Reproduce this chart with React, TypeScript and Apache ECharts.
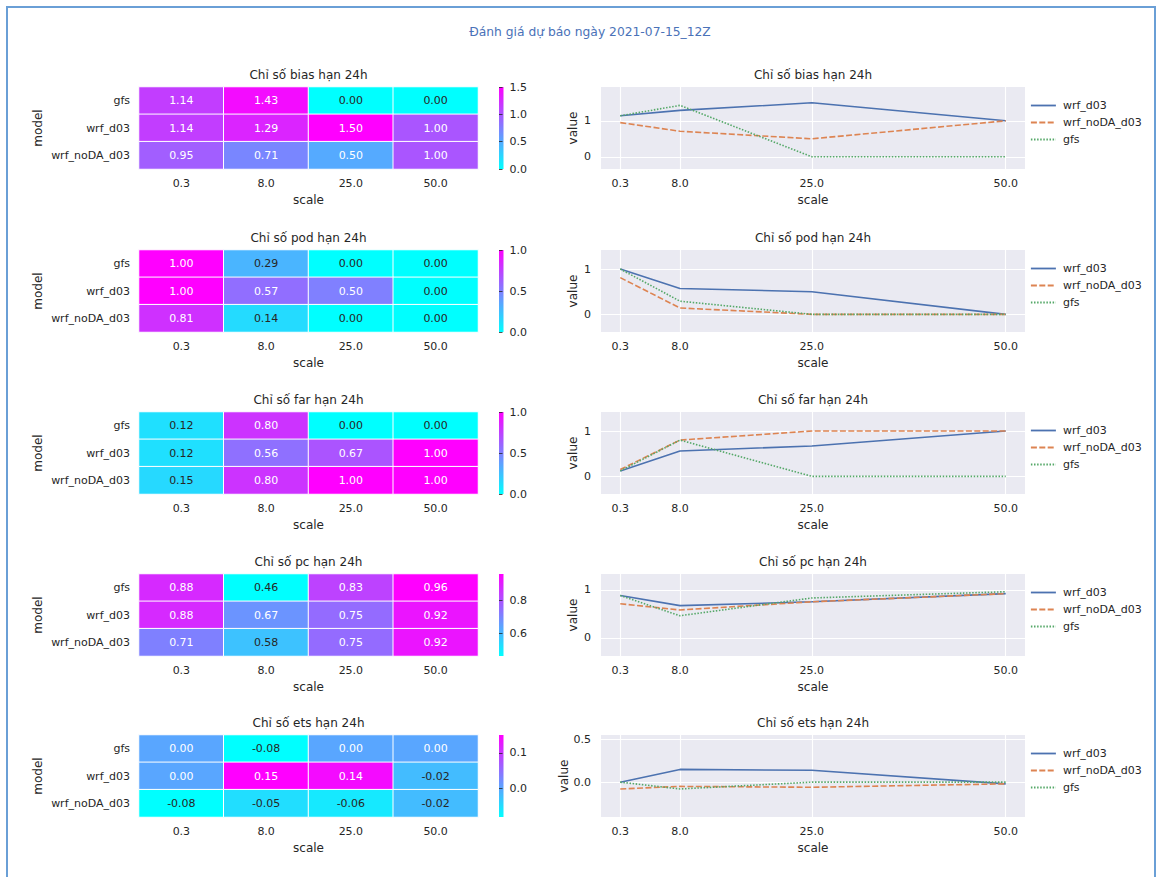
import React, { useEffect, useRef } from "react";
import * as echarts from "echarts";

// ---------- data ----------
const mainTitle = "Đánh giá dự báo ngày 2021-07-15_12Z";
const metrics = ["bias", "pod", "far", "pc", "ets"];
const scaleLabels = ["0.3", "8.0", "25.0", "50.0"];
const scaleValues = [0.3, 8.0, 25.0, 50.0];
const heatModels = ["gfs", "wrf_d03", "wrf_noDA_d03"];
const lineModels = ["wrf_d03", "wrf_noDA_d03", "gfs"];

const biasGfs = [1.14, 1.43, 0.0, 0.0];
const biasWrf = [1.14, 1.29, 1.5, 1.0];
const biasNoDA = [0.95, 0.71, 0.5, 1.0];

const podGfs = [1.0, 0.29, 0.0, 0.0];
const podWrf = [1.0, 0.57, 0.5, 0.0];
const podNoDA = [0.81, 0.14, 0.0, 0.0];

const farGfs = [0.12, 0.8, 0.0, 0.0];
const farWrf = [0.12, 0.56, 0.67, 1.0];
const farNoDA = [0.15, 0.8, 1.0, 1.0];

const pcGfs = [0.88, 0.46, 0.83, 0.96];
const pcWrf = [0.88, 0.67, 0.75, 0.92];
const pcNoDA = [0.71, 0.58, 0.75, 0.92];

const etsGfs = [0.0, -0.08, 0.0, 0.0];
const etsWrf = [0.0, 0.15, 0.14, -0.02];
const etsNoDA = [-0.08, -0.05, -0.06, -0.02];

// colorbar ranges and ticks
const cbMin = [0, 0, 0, 0.46, -0.08];
const cbMax = [1.5, 1, 1, 0.96, 0.15];
const cbTicks = [[0, 0.5, 1.0, 1.5], [0, 0.5, 1.0], [0, 0.5, 1.0], [0.6, 0.8], [0.0, 0.1]];

// line chart y ranges and ticks
const lineYMin = [-0.34, -0.39, -0.39, -0.38, -0.41];
const lineYMax = [1.94, 1.42, 1.42, 1.33, 0.555];
const lineYTicks = [[0, 1], [0, 1], [0, 1], [0, 1], [0.0, 0.5]];
const lineYDecimals = [0, 0, 0, 0, 1];
const lineXMin = -2.185;
const lineXMax = 52.485;

// ---------- tables built from data ----------
const table: Record<string, Record<string, number[]>> = {
  bias: { gfs: biasGfs, wrf_d03: biasWrf, wrf_noDA_d03: biasNoDA },
  pod: { gfs: podGfs, wrf_d03: podWrf, wrf_noDA_d03: podNoDA },
  far: { gfs: farGfs, wrf_d03: farWrf, wrf_noDA_d03: farNoDA },
  pc: { gfs: pcGfs, wrf_d03: pcWrf, wrf_noDA_d03: pcNoDA },
  ets: { gfs: etsGfs, wrf_d03: etsWrf, wrf_noDA_d03: etsNoDA },
};

// ---------- layout / style ----------
const FONT = "DejaVu Sans";
const TXT = "#262626";
const rowTops = [87, 250, 412, 574, 735];
const rowH = 82;
const hmLeft = 139;
const hmWidth = 339;
const cbLeft = 499;
const cbWidth = 4.5;
const lnLeft = 601;
const lnWidth = 424;
const lineColors = ["#4C72B0", "#DD8452", "#55A868"];
const lineTypes: any[] = ["solid", [6, 2.4], [1.5, 1.6]];

function lin(c: number) {
  return c <= 0.03928 ? c / 12.92 : Math.pow((c + 0.055) / 1.055, 2.4);
}
function textColorFor(v: number, mn: number, mx: number) {
  let t = (v - mn) / (mx - mn);
  t = Math.max(0, Math.min(1, t));
  const lum = 0.2126 * lin(t) + 0.7152 * lin(1 - t) + 0.0722 * lin(1);
  return lum > 0.408 ? TXT : "#ffffff";
}

function buildOption() {
  const grid: any[] = [];
  const xAxis: any[] = [];
  const yAxis: any[] = [];
  const series: any[] = [];
  const lineSeries: any[] = [];
  const visualMap: any[] = [];
  const legend: any[] = [];
  const title: any[] = [
    {
      text: mainTitle,
      left: 590,
      top: 26,
      textAlign: "center",
      padding: 0,
      textStyle: { color: "#4A72B8", fontSize: 12.3, fontWeight: "normal", fontFamily: FONT },
    },
  ];

  const axisText = { fontSize: 11, color: TXT, fontFamily: FONT };
  const nameText = { fontSize: 12, color: TXT, fontFamily: FONT };

  metrics.forEach((m, i) => {
    const top = rowTops[i];
    const heading = `Chỉ số ${m} hạn 24h`;
    title.push({
      text: heading,
      left: hmLeft + hmWidth / 2,
      top: top - 18,
      textAlign: "center",
      padding: 0,
      textStyle: { ...nameText, fontWeight: "normal" },
    });
    title.push({
      text: heading,
      left: lnLeft + lnWidth / 2,
      top: top - 18,
      textAlign: "center",
      padding: 0,
      textStyle: { ...nameText, fontWeight: "normal" },
    });

    // heatmap grid
    const gH = grid.length;
    grid.push({ left: hmLeft, top, width: hmWidth, height: rowH, containLabel: false });
    xAxis.push({
      type: "category",
      gridIndex: gH,
      data: scaleLabels,
      axisLine: { show: false },
      axisTick: { show: false },
      splitLine: { show: false },
      axisLabel: { ...axisText, margin: 9 },
      name: "scale",
      nameLocation: "middle",
      nameGap: 25,
      nameTextStyle: nameText,
    });
    yAxis.push({
      type: "category",
      gridIndex: gH,
      data: heatModels,
      inverse: true,
      axisLine: { show: false },
      axisTick: { show: false },
      splitLine: { show: false },
      axisLabel: { ...axisText, margin: 9 },
      name: "model",
      nameLocation: "middle",
      nameGap: 95,
      nameTextStyle: nameText,
    });
    const hmData: any[] = [];
    heatModels.forEach((mod, r) => {
      table[m][mod].forEach((v, c) => {
        hmData.push({
          value: [c, r, v],
          label: { color: textColorFor(v, cbMin[i], cbMax[i]) },
        });
      });
    });
    visualMap.push({
      type: "continuous",
      show: false,
      seriesIndex: i,
      dimension: 2,
      min: cbMin[i],
      max: cbMax[i],
      inRange: { color: ["#00ffff", "#ff00ff"] },
    });
    series.push({
      type: "heatmap",
      name: `hm_${m}`,
      xAxisIndex: gH,
      yAxisIndex: gH,
      data: hmData,
      itemStyle: { borderColor: "#ffffff", borderWidth: 1 },
      label: {
        show: true,
        fontSize: 11,
        fontFamily: FONT,
        formatter: (p: any) => Number(p.value[2]).toFixed(2),
      },
      emphasis: { disabled: true },
    });

    // colorbar grid
    const gC = grid.length;
    grid.push({
      left: cbLeft,
      top,
      width: cbWidth,
      height: rowH,
      show: true,
      borderWidth: 0,
      backgroundColor: {
        type: "linear",
        x: 0,
        y: 0,
        x2: 0,
        y2: 1,
        colorStops: [
          { offset: 0, color: "#ff00ff" },
          { offset: 1, color: "#00ffff" },
        ],
      },
    });
    xAxis.push({ type: "value", gridIndex: gC, show: false, min: 0, max: 1 });
    yAxis.push({
      type: "value",
      gridIndex: gC,
      position: "right",
      min: cbMin[i],
      max: cbMax[i],
      axisLine: { show: false },
      splitLine: { show: false },
      axisTick: {
        show: true,
        length: 3.5,
        customValues: cbTicks[i],
        lineStyle: { color: TXT, width: 0.8 },
      },
      axisLabel: {
        ...axisText,
        margin: 6,
        customValues: cbTicks[i],
        formatter: (v: number) => Number(v).toFixed(1),
      },
    });

    // line grid
    const gL = grid.length;
    grid.push({
      left: lnLeft,
      top,
      width: lnWidth,
      height: rowH,
      show: true,
      borderWidth: 0,
      backgroundColor: "#EAEAF2",
    });
    xAxis.push({
      type: "value",
      gridIndex: gL,
      min: lineXMin,
      max: lineXMax,
      axisLine: { show: false },
      axisTick: { show: false, customValues: scaleValues },
      axisLabel: {
        ...axisText,
        margin: 9,
        customValues: scaleValues,
        formatter: (v: number) => Number(v).toFixed(1),
      },
      splitLine: { show: true, lineStyle: { color: "#ffffff", width: 1.1 } },
      name: "scale",
      nameLocation: "middle",
      nameGap: 25,
      nameTextStyle: nameText,
    });
    yAxis.push({
      type: "value",
      gridIndex: gL,
      min: lineYMin[i],
      max: lineYMax[i],
      axisLine: { show: false },
      axisTick: { show: false, customValues: lineYTicks[i] },
      axisLabel: {
        ...axisText,
        margin: 10,
        customValues: lineYTicks[i],
        formatter: (v: number) => Number(v).toFixed(lineYDecimals[i]),
      },
      splitLine: { show: true, lineStyle: { color: "#ffffff", width: 1.1 } },
      name: "value",
      nameLocation: "middle",
      nameGap: 22,
      nameTextStyle: nameText,
    });
    lineModels.forEach((mod, k) => {
      lineSeries.push({
        type: "line",
        name: mod,
        xAxisIndex: gL,
        yAxisIndex: gL,
        data: scaleValues.map((x, c) => [x, table[m][mod][c]]),
        symbol: "none",
        lineStyle: { color: lineColors[k], width: 1.6, type: lineTypes[k] },
        itemStyle: { color: lineColors[k] },
        emphasis: { disabled: true },
        z: 3,
      });
    });
    legend.push({
      data: lineModels,
      orient: "vertical",
      left: 1030,
      top: top + 13,
      itemWidth: 25,
      itemHeight: 13,
      itemGap: 6,
      padding: 0,
      selectedMode: false,
      itemStyle: { color: "rgba(0,0,0,0)", borderWidth: 0, opacity: 0 },
      lineStyle: { width: 1.8 },
      textStyle: { ...axisText, padding: [0, 0, 0, 2] },
    });
  });

  return {
    animation: false,
    backgroundColor: "#ffffff",
    textStyle: { fontFamily: FONT },
    title,
    grid,
    xAxis,
    yAxis,
    visualMap,
    legend,
    series: [...series, ...lineSeries],
    graphic: [
      {
        type: "rect",
        silent: true,
        shape: { x: 7, y: 7, width: 1148, height: 900 },
        style: { fill: "none", stroke: "#6A9FD6", lineWidth: 2 },
      },
    ],
  };
}

export default function App() {
  const ref = useRef<HTMLDivElement>(null);
  useEffect(() => {
    if (!ref.current) return;
    const chart = echarts.init(ref.current, undefined, { renderer: "svg" });
    chart.setOption(buildOption() as any);
    return () => chart.dispose();
  }, []);
  return (
    <div
      ref={ref}
      style={{ position: "absolute", left: 0, top: 0, width: 1161, height: 877 }}
    />
  );
}
